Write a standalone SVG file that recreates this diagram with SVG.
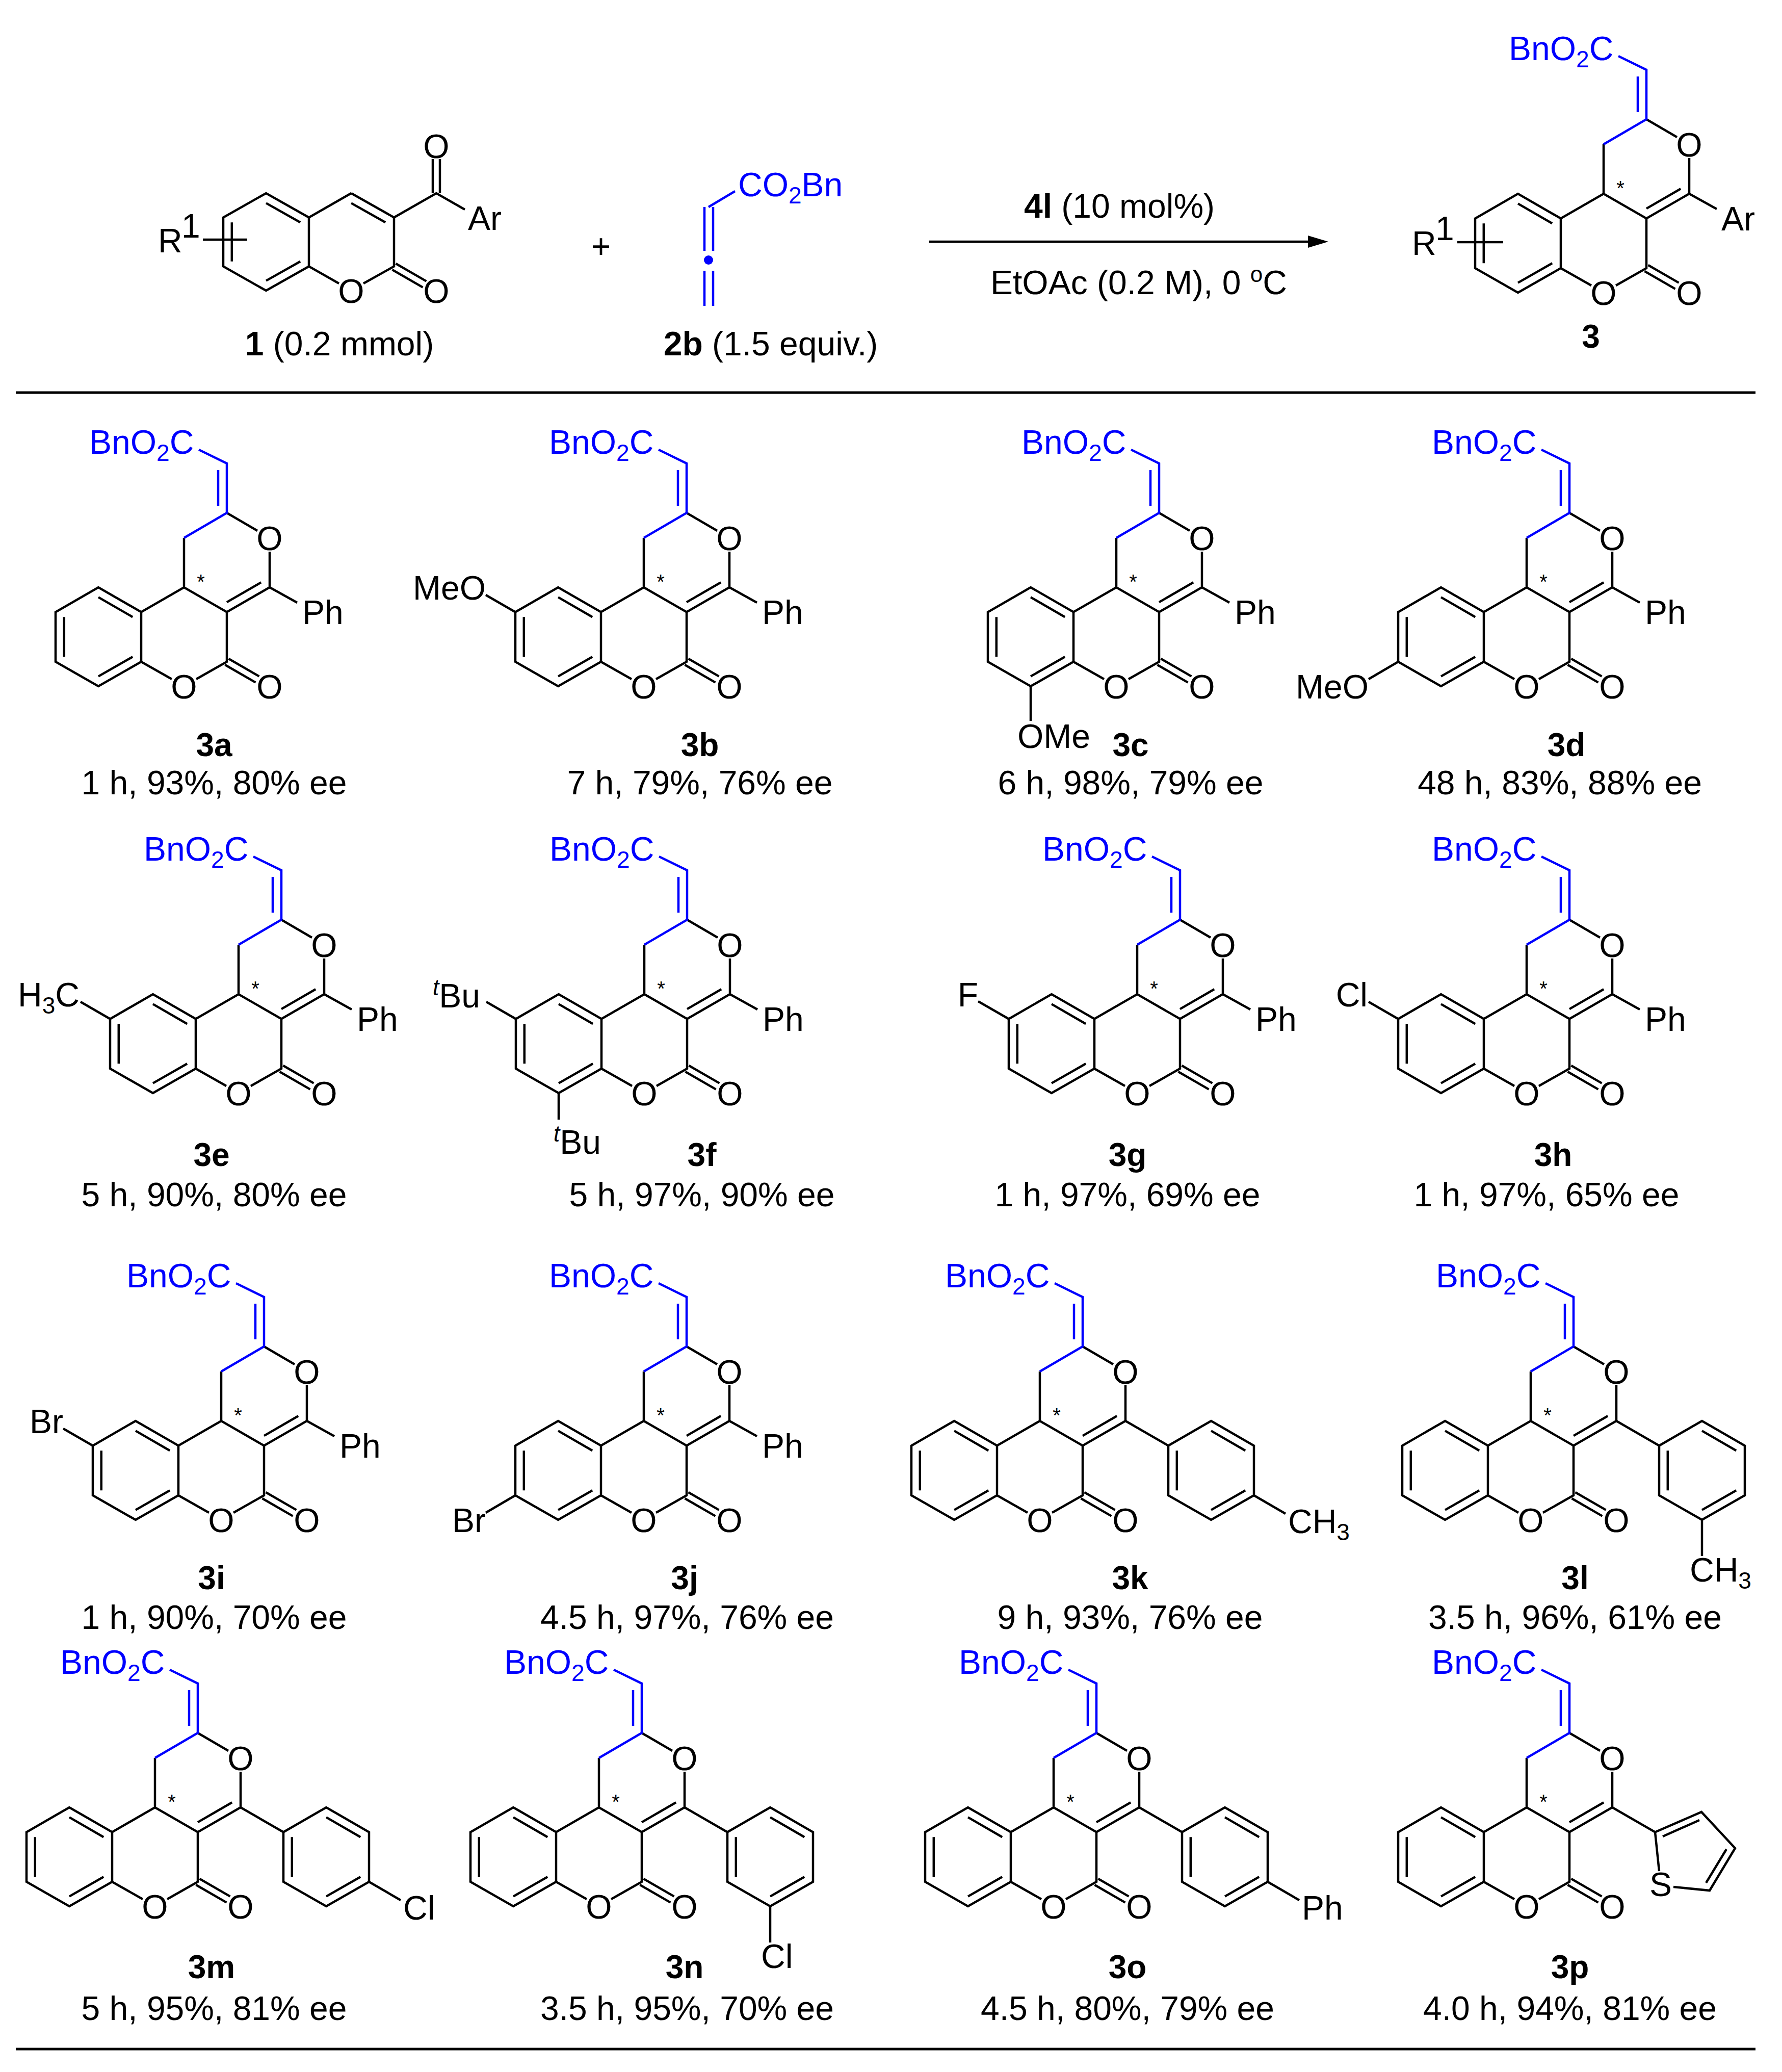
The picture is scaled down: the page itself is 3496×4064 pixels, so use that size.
<svg xmlns="http://www.w3.org/2000/svg" xmlns:xlink="http://www.w3.org/1999/xlink" width="3496" height="4064" viewBox="0 0 3496 4064">
<style>
.k{stroke:#000;stroke-width:4.5;fill:none}
.u{stroke:#0000FF;stroke-width:4.5;fill:none}
text{font-family:"Liberation Sans",Arial,sans-serif;font-size:66px;fill:#000}
.m{text-anchor:middle}
.e{text-anchor:end}
.bl{fill:#0000FF}
.bd{font-weight:bold;font-size:64px}
.ast{font-size:40px}
</style>
<defs>
<g id="core">
<path class="k" d="M0,0 V-97 M84,-146 L144,-111 M168,-70 V0 L84,48.5 L0,0 L-84,48.5 L-168,0 L-252,48.5 V146 L-168,194 L-84,146 V48.5 M84,48.5 V146 L24,180 M-84,146 L-24,180 M151.2,-9.7 L84,29.1 M-100.8,58.2 L-168,19.4 M-235.2,58.2 V136.3 M-168,174.6 L-100.8,136.3 M80.5,152 L140.5,186.6 M87.5,140 L147.5,174.6"/>
<path class="u" d="M0,-97 L84,-146 V-243 L29,-270 M67,-230 V-160"/>
<text class="m" x="168" y="-73">O</text>
<text class="m" x="0" y="218">O</text>
<text class="m" x="168" y="218">O</text>
<text class="m ast" x="33" y="3">*</text>
<text class="bl" x="-186" y="-262">BnO<tspan font-size="46" dy="14">2</tspan><tspan dy="-14">C</tspan></text>
</g>
<g id="ph">
<path class="k" d="M168,0 L222,30"/>
<text x="232" y="72">Ph</text>
</g>
<g id="aryl">
<path class="k" d="M168,0 L252,48.5 M252,48.5 L336,0 L420,48.5 V146 L336,194 L252,146 Z M268.8,58.2 V136.3 M336,19.4 L403.2,58.2 M403.2,136.3 L336,174.6"/>
</g>
</defs>

<g id="scheme">
<g id="compound1">
<path class="k" d="M689,379 L773,426.5 V522.5 L713,556 M665,556 L606,522.5 V426.5 L689,379 M606,426.5 L522,379 L438,426.5 V522.5 L522,570 L606,522.5 M689,398.4 L756.2,436.2 M589.2,436.2 L522,398.4 M454.8,436.2 V512.8 M522,550.6 L589.2,512.8 M769.5,529 L829.5,563.6 M776.5,517 L836.5,551.6 M773,426.5 L856,379 L912,411 M849,379 V312 M863,379 V312 M398,470 H485"/>
<text class="m" x="856" y="310">O</text>
<text class="m" x="689" y="594">O</text>
<text class="m" x="856" y="594">O</text>
<text x="918" y="451">Ar</text>
<text x="310" y="495">R</text><text x="356" y="466" font-size="44">1</text>
<text class="m" x="666" y="697"><tspan font-weight="bold">1</tspan> (0.2 mmol)</text>
</g>
<text class="m" x="1179" y="506">+</text>
<g id="allene2b">
<path class="u" d="M1382,406 V492 M1399,406 V492 M1382,531 V600 M1399,531 V600 M1390,406 L1442,375"/>
<circle cx="1390" cy="510" r="9" fill="#0000FF"/>
<text class="bl" x="1448" y="385">CO<tspan font-size="46" dy="14">2</tspan><tspan dy="-14">Bn</tspan></text>
<text class="m" x="1512" y="697"><tspan font-weight="bold">2b</tspan> (1.5 equiv.)</text>
</g>
<g id="arrow">
<path class="k" d="M1823,474 H2575"/>
<polygon points="2606,474 2566,462 2566,486" fill="#000"/>
<text class="m" x="2196" y="427"><tspan font-weight="bold">4l</tspan> (10 mol%)</text>
<text class="m" x="2234" y="577">EtOAc (0.2 M), 0 <tspan font-size="44" dy="-24">o</tspan><tspan dy="24">C</tspan></text>
</g>
<g id="product3" transform="translate(3146,380)">
<use xlink:href="#core"/>
<path class="k" d="M168,0 L222,30 M-287,95 H-197"/>
<text x="231" y="72">Ar</text>
<text x="-376" y="120">R</text><text x="-330" y="91" font-size="44">1</text>
<text class="m bd" x="-25" y="302">3</text>
</g>
</g>

<path class="k" d="M31,770 H3444 M31,4019 H3444" style="stroke-width:5"/>

<g id="c3a" transform="translate(361,1152)"><use xlink:href="#core"/><use xlink:href="#ph"/></g>
<g id="c3b" transform="translate(1263,1152)"><use xlink:href="#core"/><use xlink:href="#ph"/>
<path class="k" d="M-252,48.5 L-310,15"/><text class="e" x="-310" y="24">MeO</text></g>
<g id="c3c" transform="translate(2190,1152)"><use xlink:href="#core"/><use xlink:href="#ph"/>
<path class="k" d="M-168,194 V262"/><text x="-194" y="315">OMe</text></g>
<g id="c3d" transform="translate(2995,1152)"><use xlink:href="#core"/><use xlink:href="#ph"/>
<path class="k" d="M-252,146 L-310,180"/><text class="e" x="-310" y="218">MeO</text></g>

<g id="c3e" transform="translate(468,1950)"><use xlink:href="#core"/><use xlink:href="#ph"/>
<path class="k" d="M-252,48.5 L-310,15"/><text class="e" x="-312" y="24">H<tspan font-size="46" dy="14">3</tspan><tspan dy="-14">C</tspan></text></g>
<g id="c3f" transform="translate(1264,1950)"><use xlink:href="#core"/><use xlink:href="#ph"/>
<path class="k" d="M-252,48.5 L-310,15 M-168,194 V246"/>
<text class="e" x="-322" y="26"><tspan font-style="italic" font-size="44" dy="-24">t</tspan><tspan dy="24">Bu</tspan></text>
<text x="-178" y="313"><tspan font-style="italic" font-size="44" dy="-24">t</tspan><tspan dy="24">Bu</tspan></text></g>
<g id="c3g" transform="translate(2231,1950)"><use xlink:href="#core"/><use xlink:href="#ph"/>
<path class="k" d="M-252,48.5 L-312,14"/><text class="m" x="-332" y="24">F</text></g>
<g id="c3h" transform="translate(2995,1950)"><use xlink:href="#core"/><use xlink:href="#ph"/>
<path class="k" d="M-252,48.5 L-310,15"/><text class="e" x="-312" y="24">Cl</text></g>

<g id="c3i" transform="translate(434,2787)"><use xlink:href="#core"/><use xlink:href="#ph"/>
<path class="k" d="M-252,48.5 L-310,15"/><text class="e" x="-310" y="24">Br</text></g>
<g id="c3j" transform="translate(1263,2787)"><use xlink:href="#core"/><use xlink:href="#ph"/>
<path class="k" d="M-252,146 L-310,180"/><text class="e" x="-310" y="218">Br</text></g>
<g id="c3k" transform="translate(2040,2787)"><use xlink:href="#core"/><use xlink:href="#aryl"/>
<path class="k" d="M420,146 L482,182"/><text x="487" y="220">CH<tspan font-size="46" dy="14">3</tspan></text></g>
<g id="c3l" transform="translate(3003,2787)"><use xlink:href="#core"/><use xlink:href="#aryl"/>
<path class="k" d="M336,194 V265"/><text x="312" y="315">CH<tspan font-size="46" dy="14">3</tspan></text></g>

<g id="c3m" transform="translate(304,3545)"><use xlink:href="#core"/><use xlink:href="#aryl"/>
<path class="k" d="M420,146 L482,182"/><text x="487" y="220">Cl</text></g>
<g id="c3n" transform="translate(1175,3545)"><use xlink:href="#core"/><use xlink:href="#aryl"/>
<path class="k" d="M336,194 V265"/><text x="318" y="315">Cl</text></g>
<g id="c3o" transform="translate(2067,3545)"><use xlink:href="#core"/><use xlink:href="#aryl"/>
<path class="k" d="M420,146 L482,182"/><text x="487" y="220">Ph</text></g>
<g id="c3p" transform="translate(2995,3545)"><use xlink:href="#core"/>
<path class="k" d="M168,0 L252,48.5 L343,9 L409,80 L359,163 L288,156 M252,48.5 L260,125 M267,57 L339,25 M392,82 L352,148"/>
<text class="m" x="263" y="174">S</text></g>

<g id="labels">
<text class="m bd" x="420" y="1483">3a</text><text class="m" x="420" y="1558">1 h, 93%, 80% ee</text>
<text class="m bd" x="1373" y="1483">3b</text><text class="m" x="1373" y="1558">7 h, 79%, 76% ee</text>
<text class="m bd" x="2218" y="1483">3c</text><text class="m" x="2218" y="1558">6 h, 98%, 79% ee</text>
<text class="m bd" x="3073" y="1483">3d</text><text class="m" x="3060" y="1558">48 h, 83%, 88% ee</text>
<text class="m bd" x="415" y="2287">3e</text><text class="m" x="420" y="2366">5 h, 90%, 80% ee</text>
<text class="m bd" x="1377" y="2287">3f</text><text class="m" x="1377" y="2366">5 h, 97%, 90% ee</text>
<text class="m bd" x="2212" y="2287">3g</text><text class="m" x="2212" y="2366">1 h, 97%, 69% ee</text>
<text class="m bd" x="3047" y="2287">3h</text><text class="m" x="3034" y="2366">1 h, 97%, 65% ee</text>
<text class="m bd" x="415" y="3117">3i</text><text class="m" x="420" y="3195">1 h, 90%, 70% ee</text>
<text class="m bd" x="1343" y="3117">3j</text><text class="m" x="1348" y="3195">4.5 h, 97%, 76% ee</text>
<text class="m bd" x="2217" y="3117">3k</text><text class="m" x="2217" y="3195">9 h, 93%, 76% ee</text>
<text class="m bd" x="3090" y="3117">3l</text><text class="m" x="3090" y="3195">3.5 h, 96%, 61% ee</text>
<text class="m bd" x="415" y="3880">3m</text><text class="m" x="420" y="3962">5 h, 95%, 81% ee</text>
<text class="m bd" x="1343" y="3880">3n</text><text class="m" x="1348" y="3962">3.5 h, 95%, 70% ee</text>
<text class="m bd" x="2212" y="3880">3o</text><text class="m" x="2212" y="3962">4.5 h, 80%, 79% ee</text>
<text class="m bd" x="3080" y="3880">3p</text><text class="m" x="3080" y="3962">4.0 h, 94%, 81% ee</text>
</g>
</svg>
